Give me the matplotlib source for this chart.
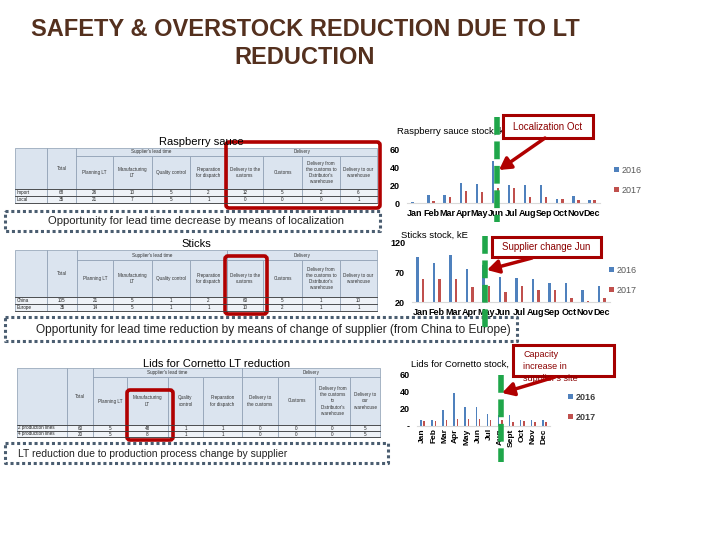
import numpy as np
import matplotlib
matplotlib.use('Agg')
import matplotlib.pyplot as plt
from matplotlib.patches import Rectangle, FancyBboxPatch

plt.rcParams['font.family'] = ['Liberation Sans', 'DejaVu Sans']

# ---- data ----
months = ['Jan', 'Feb', 'Mar', 'Apr', 'May', 'Jun', 'Jul', 'Aug', 'Sep', 'Oct', 'Nov', 'Dec']
lids_months = ['Jan', 'Feb', 'Mar', 'Apr', 'May', 'Jun', 'Jul', 'Aug', 'Sept', 'Oct', 'Nov', 'Dec']

rasp_2016 = [1, 8.5, 8.5, 22.5, 21.5, 47, 19.5, 19.5, 19.5, 4, 7.5, 3]
rasp_2017 = [0.5, 2, 7, 13, 12, 16.5, 17, 7, 7, 4, 3, 3]
sticks_2016 = [96, 86, 100, 76, 82, 63, 61, 59, 53, 53, 40, 47]
sticks_2017 = [59, 59, 59, 46, 47, 37, 47, 40, 40, 27, 21, 27]
lids_2016 = [7, 7, 19, 39, 22, 22, 14, 12, 12, 7, 6, 7]
lids_2017 = [5, 5, 6, 8, 8, 8, 7, 6, 4, 5, 4, 4]

groups = ["Supplier's lead time", 'Delivery']
rasp_cols = ['', 'Total', 'Planning LT', 'Manufacturing\nLT', 'Quality control',
             'Preparation\nfor dispatch', 'Delivery to the\ncustoms', 'Customs',
             "Delivery from\nthe customs to\nDistributor's\nwarehouse", 'Delivery to our\nwarehouse']
rasp_rows = [['Import', 68, 26, 10, 5, 2, 12, 5, 2, 6],
             ['Local', 35, 21, 7, 5, 1, 0, 0, 0, 1]]
sticks_cols = rasp_cols
sticks_rows = [['China', 105, 21, 5, 1, 2, 60, 5, 1, 10],
               ['Europe', 35, 14, 5, 1, 1, 10, 2, 1, 1]]
lids_cols = ['', 'Total', 'Planning LT', 'Manufacturing\nLT', 'Quality\ncontrol',
             'Preparation\nfor dispatch', 'Delivery to\nthe customs', 'Customs',
             "Delivery from\nthe customs\nto\nDistributor's\nwarehouse", 'Delivery to\nour\nwarehouse']
lids_rows = [['2 production lines', 60, 5, 48, 1, 1, 0, 0, 0, 5],
             ['4 production lines', 20, 5, 8, 1, 1, 0, 0, 0, 5]]

blue = '#4f81bd'
red = '#c0504d'
dark_red = '#a50000'
green = '#1fa64a'
dots = '#4a5d70'

W, H = 720, 540
fig = plt.figure(figsize=(7.2, 5.4), dpi=100)


def px_axes(x0, y0, x1, y1):
    return fig.add_axes([x0 / W, 1 - y1 / H, (x1 - x0) / W, (y1 - y0) / H])


bg = px_axes(0, 0, W, H)
bg.set_xlim(0, W)
bg.set_ylim(H, 0)
bg.axis('off')

# title
bg.text(305, 30, 'SAFETY & OVERSTOCK REDUCTION DUE TO LT', ha='center', va='center',
        fontsize=17, fontweight='bold', color='#54301e')
bg.text(305, 58, 'REDUCTION', ha='center', va='center',
        fontsize=17, fontweight='bold', color='#54301e')


def draw_table(xs, ys, cols, rows):
    head_fc, body_fc, edge = '#dbe4ef', '#eef2f7', '#8a9bb0'
    fs = 3.3
    y0, y1, y2 = ys[0], ys[1], ys[2]
    for j, c in enumerate(cols):
        xa, xb = xs[j], xs[j + 1]
        top = y0 if j < 2 else y1
        bg.add_patch(Rectangle((xa, top), xb - xa, y2 - top, fc=head_fc, ec=edge, lw=0.5))
        bg.text((xa + xb) / 2, (top + y2) / 2, c, ha='center', va='center',
                fontsize=fs, color='#333333', linespacing=1.3)
    for (a, b), g in zip([(2, 6), (6, 10)], groups):
        bg.add_patch(Rectangle((xs[a], y0), xs[b] - xs[a], y1 - y0, fc=head_fc, ec=edge, lw=0.5))
        bg.text((xs[a] + xs[b]) / 2, (y0 + y1) / 2, g, ha='center', va='center',
                fontsize=fs, color='#333333')
    for i, row in enumerate(rows):
        ya, yb = ys[2 + i], ys[3 + i]
        for j, v in enumerate(row):
            xa, xb = xs[j], xs[j + 1]
            bg.add_patch(Rectangle((xa, ya), xb - xa, yb - ya, fc=body_fc, ec=edge, lw=0.5))
            if j == 0:
                bg.text(xa + 1.5, (ya + yb) / 2, v, ha='left', va='center', fontsize=fs, color='#222222')
            else:
                bg.text((xa + xb) / 2, (ya + yb) / 2, str(v), ha='center', va='center',
                        fontsize=fs, color='#222222')
        bg.plot([xs[0], xs[-1]], [yb, yb], color='#404040', lw=0.6)
    bg.plot([xs[0], xs[-1]], [y2, y2], color='#404040', lw=0.6)


def dotted_box(x0, y0, x1, y1):
    bg.plot([x0, x1, x1, x0, x0], [y0, y0, y1, y1, y0], color=dots, lw=2.2,
            dashes=(1.0, 0.9))


def red_box(x, y, w, h):
    bg.add_patch(FancyBboxPatch((x, y), w, h, boxstyle='round,pad=0,rounding_size=3',
                                fill=False, ec='#b00000', lw=2.6))


# section 1
bg.text(201, 142, 'Raspberry sauce', ha='center', va='center', fontsize=8)
draw_table([15, 47, 76, 113, 152, 190, 227, 263, 302, 340, 377],
           [148, 156, 189, 196, 203], rasp_cols, rasp_rows)
red_box(226, 142, 154, 66)
dotted_box(5, 211, 380, 231)
bg.text(196, 221, 'Opportunity for lead time decrease by means of localization',
        ha='center', va='center', fontsize=8.1, color='#222222')

# section 2
bg.text(196, 244, 'Sticks', ha='center', va='center', fontsize=8)
draw_table([15, 47, 77, 113, 152, 190, 227, 263, 302, 340, 377],
           [250, 260, 297, 304, 311], sticks_cols, sticks_rows)
red_box(225, 256, 42, 58)
dotted_box(5, 317, 517, 341)
bg.text(36, 330, 'Opportunity for lead time reduction by means of change of supplier (from China to Europe)',
        ha='left', va='center', fontsize=8.6, color='#222222')

# section 3
bg.text(217, 364, 'Lids for Cornetto LT reduction', ha='center', va='center', fontsize=8)
draw_table([17, 67, 93, 127, 168, 203, 242, 278, 315, 350, 380],
           [368, 377, 425, 431, 437], lids_cols, lids_rows)
red_box(127, 390, 46, 50)
dotted_box(5, 443, 388, 463)
bg.text(18, 454, 'LT reduction due to production process change by supplier',
        ha='left', va='center', fontsize=7.5, color='#222222')

# chart titles
bg.text(397, 132, 'Raspberry sauce stock, kE', ha='left', va='center', fontsize=6.8)
bg.text(401, 235, 'Sticks stock, kE', ha='left', va='center', fontsize=6.8)
bg.text(411, 364, 'Lids for Cornetto stock, kE', ha='left', va='center', fontsize=6.8)


def bar_chart(box, v16, v17, ylim, yticks, yticklabels, labels, offs, width,
              rot, leg_xy, leg_bold):
    ax = px_axes(*box)
    x = np.arange(len(labels))
    ax.bar(x - offs, v16, width, color=blue, label='2016')
    ax.bar(x + offs, v17, width, color=red, label='2017')
    ax.set_xlim(-0.5, len(labels) - 0.5)
    ax.set_ylim(*ylim)
    ax.set_yticks(yticks)
    ax.set_yticklabels(yticklabels, fontweight='bold', fontsize=6.5)
    ax.set_xticks(x)
    if rot:
        ax.set_xticklabels(labels, fontweight='bold', fontsize=6, rotation=90, va='top')
        ax.tick_params(axis='x', pad=2)
    else:
        ax.set_xticklabels(labels, fontweight='bold', fontsize=6.5)
        ax.tick_params(axis='x', pad=4)
    ax.tick_params(length=0)
    ax.tick_params(axis='y', pad=5)
    for s in ['top', 'right', 'left']:
        ax.spines[s].set_visible(False)
    ax.spines['bottom'].set_color('#d9d9d9')
    ax.patch.set_alpha(0)
    ax.legend(loc='center left', bbox_to_anchor=leg_xy, frameon=False,
              handlelength=0.55, handleheight=0.55,
              handletextpad=0.3, labelspacing=1.2, borderpad=0,
              labelcolor='#404040' if leg_bold else '#595959',
              prop={'weight': 'bold' if leg_bold else 'normal', 'size': 6.5})
    return ax


bar_chart((407, 149, 600, 203), rasp_2016, rasp_2017, (0, 60), [0, 20, 40, 60],
          ['0', '20', '40', '60'], months, 0.16, 0.15, False, (1.05, 0.42), False)
bar_chart((412, 243, 610, 302), sticks_2016, sticks_2017, (20, 120), [20, 70, 120],
          ['20', '70', '120'], months, 0.165, 0.15, False, (0.97, 0.37), False)
bar_chart((417, 375, 550, 425.5), lids_2016, lids_2017, (0, 60), [0, 20, 40, 60],
          ['-', '20', '40', '60'], lids_months, 0.15, 0.14, True, (1.1, 0.36), True)

# overlay: green markers and callouts
top = px_axes(0, 0, W, H)
top.set_xlim(0, W)
top.set_ylim(H, 0)
top.axis('off')
top.patch.set_alpha(0)

for gx, ya, yb in [(497, 117, 222), (485, 236, 330), (501, 375, 462)]:
    top.plot([gx, gx], [ya, yb], color=green, lw=4, dashes=(3.2, 1.2))

arrow = dict(arrowstyle='-|>,head_length=0.7,head_width=0.4', color='#b00000', lw=2.5,
             shrinkA=0, shrinkB=0)

top.add_patch(Rectangle((503, 115), 90, 23, fc='white', ec=dark_red, lw=2.2))
top.text(548, 126.5, 'Localization Oct', ha='center', va='center', fontsize=7, color='#8b0000')
top.annotate('', xy=(499, 170), xytext=(545, 138), arrowprops=arrow)

top.add_patch(Rectangle((492, 237), 109, 20, fc='white', ec=dark_red, lw=2.2))
top.text(546, 247.5, 'Supplier change Jun', ha='center', va='center', fontsize=7, color='#8b0000')
top.annotate('', xy=(487, 270), xytext=(532, 258), arrowprops=arrow)

top.add_patch(Rectangle((513, 345), 101, 31, fc='white', ec=dark_red, lw=2.2))
top.text(523, 350, "Capacity\nincrease in\nsupplier's site", ha='left', va='top',
         fontsize=6.5, color='#8b0000', linespacing=1.45)
top.annotate('', xy=(502, 393), xytext=(555, 377), arrowprops=arrow)

fig.savefig('out.png', dpi=100, facecolor='white')
